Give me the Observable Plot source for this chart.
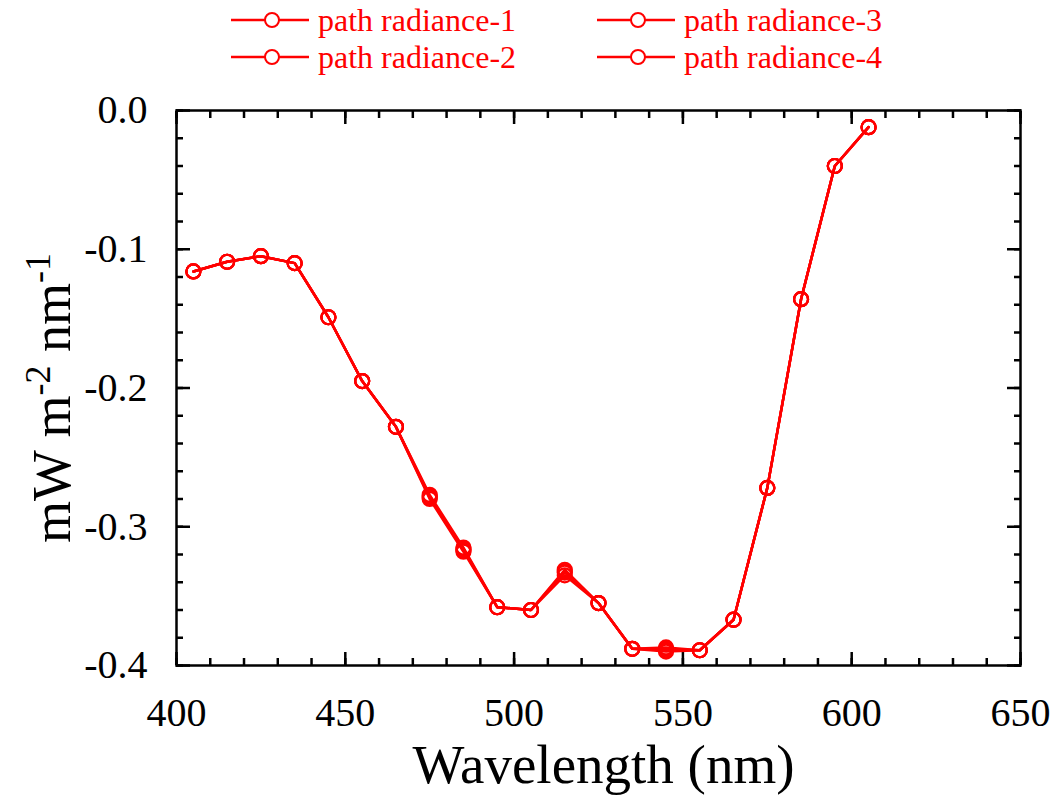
<!DOCTYPE html>
<html>
<head>
<meta charset="utf-8">
<script src="https://cdn.jsdelivr.net/npm/d3@7"></script>
<script src="https://cdn.jsdelivr.net/npm/@observablehq/plot@0.6"></script>
<style>
  html, body { margin: 0; padding: 0; background: #fff; }
  #wrap { width: 1058px; position: relative; font-family: "Liberation Serif", "Times New Roman", serif; }
  #legend { position: relative; width: 1058px; height: 90px; }
  .item { position: absolute; display: flex; align-items: center; height: 36px; color: #ff0000; font-size: 32px; white-space: nowrap; }
  .item svg { display: block; }
  .item span { margin-left: 7px; }
</style>
</head>
<body>
<div id="wrap">
  <div id="legend"></div>
  <div id="chart"></div>
</div>
<script>
// ---- data ----
const wavelengths = [405, 415, 425, 435, 445, 455, 465, 475, 485, 495, 505, 515, 525, 535, 545, 555, 565, 575, 585, 595, 605];
const seriesNames = ["path radiance-1", "path radiance-2", "path radiance-3", "path radiance-4"];
const radiance1 = [-0.116, -0.109, -0.105, -0.110, -0.149, -0.195, -0.228, -0.278, -0.316, -0.358, -0.360, -0.332, -0.355, -0.388, -0.388, -0.389, -0.367, -0.272, -0.136, -0.040, -0.012];
const radiance2 = [-0.116, -0.109, -0.105, -0.110, -0.149, -0.195, -0.228, -0.280, -0.318, -0.358, -0.360, -0.335, -0.355, -0.388, -0.390, -0.389, -0.367, -0.272, -0.136, -0.040, -0.012];
const radiance3 = [-0.116, -0.109, -0.105, -0.110, -0.149, -0.195, -0.228, -0.279, -0.317, -0.358, -0.360, -0.333, -0.355, -0.388, -0.389, -0.389, -0.367, -0.272, -0.136, -0.040, -0.012];
const radiance4 = [-0.116, -0.109, -0.105, -0.110, -0.149, -0.195, -0.228, -0.277, -0.315, -0.358, -0.360, -0.331, -0.355, -0.388, -0.387, -0.389, -0.367, -0.272, -0.136, -0.040, -0.012];
const xMajorTicks = [400, 450, 500, 550, 600, 650];
const yMajorTicks = [-0.4, -0.3, -0.2, -0.1, 0.0];
const xLabel = "Wavelength (nm)";
const yLabelParts = [["mW m", false], ["-2", true], [" nm", false], ["-1", true]];

// ---- build table ----
const allSeries = [radiance1, radiance2, radiance3, radiance4];
const rows = [];
allSeries.forEach((vals, si) => {
  vals.forEach((v, i) => rows.push({series: seriesNames[si], wl: wavelengths[i], value: v}));
});
const xMinorTicks = d3.range(400, 651, 10);
const yMinorTicks = d3.range(-20, 1).map(i => Math.round(i * 2) / 100);
const yLabelText = yLabelParts.map(p => p[0]).join("");
const RED = "#ff0000";

// ---- legend ----
const legend = document.getElementById("legend");
const legendPos = [[231, 2], [231, 39], [597, 2], [597, 39]];
seriesNames.forEach((name, i) => {
  const div = document.createElement("div");
  div.className = "item";
  div.style.left = legendPos[i][0] + "px";
  div.style.top = legendPos[i][1] + "px";
  div.innerHTML = `<svg width="80" height="36"><line x1="0" x2="78" y1="18" y2="18" stroke="${RED}" stroke-width="2.5"/><circle cx="41" cy="18" r="7" fill="white" stroke="${RED}" stroke-width="2"/></svg><span>${name}</span>`;
  legend.appendChild(div);
});

// ---- chart ----
const chart = Plot.plot({
  width: 1058,
  height: 706,
  marginTop: 20,
  marginBottom: 131,
  marginLeft: 176,
  marginRight: 38,
  style: {fontFamily: "Liberation Serif, Times New Roman, serif", color: "black", background: "white", overflow: "visible"},
  x: {domain: [400, 650]},
  y: {domain: [-0.4, 0.0]},
  marks: [
    Plot.frame({stroke: "black", strokeWidth: 2.5}),
    // bottom axis
    Plot.axisX({anchor: "bottom", ticks: xMinorTicks, tickSize: -7, strokeWidth: 2.5, fill: "none", label: null}),
    Plot.axisX({anchor: "bottom", ticks: xMajorTicks, tickSize: -13, tickPadding: 45, strokeWidth: 2.5, fontSize: 40, tickFormat: d => String(d), label: null}),
    // top axis
    Plot.axisX({anchor: "top", ticks: xMinorTicks, tickSize: -7, strokeWidth: 2.5, fill: "none", label: null}),
    Plot.axisX({anchor: "top", ticks: xMajorTicks, tickSize: -13, strokeWidth: 2.5, fill: "none", label: null}),
    // left axis
    Plot.axisY({anchor: "left", ticks: yMinorTicks, tickSize: -7, strokeWidth: 2.5, fill: "none", label: null}),
    Plot.axisY({anchor: "left", ticks: yMajorTicks, tickSize: -14, tickPadding: 43, strokeWidth: 2.5, fontSize: 40, tickFormat: d => d.toFixed(1), label: null}),
    // right axis
    Plot.axisY({anchor: "right", ticks: yMinorTicks, tickSize: -7, strokeWidth: 2.5, fill: "none", label: null}),
    Plot.axisY({anchor: "right", ticks: yMajorTicks, tickSize: -14, strokeWidth: 2.5, fill: "none", label: null}),
    // data
    Plot.line(rows, {x: "wl", y: "value", z: "series", stroke: RED, strokeWidth: 2.5}),
    Plot.dot(rows, {x: "wl", y: "value", r: 7, stroke: RED, strokeWidth: 2.2, fill: "none"}),
    // axis titles
    Plot.text([xLabel], {text: d => d, frameAnchor: "bottom", textAnchor: "middle", dx: 5, dy: 117, fontSize: 55, fill: "black"}),
    Plot.text([yLabelText], {text: d => d, frameAnchor: "left", textAnchor: "middle", dx: -124, dy: 10, rotate: -90, fontSize: 54, fill: "black"})
  ]
});
document.getElementById("chart").appendChild(chart);

// superscripts in the y label
d3.select(chart).selectAll("text").filter(function() { return this.textContent === yLabelText; }).each(function() {
  const t = d3.select(this);
  t.text(null);
  let raised = false;
  yLabelParts.forEach(([s, sup]) => {
    const ts = t.append("tspan").text(s);
    if (sup && !raised) { ts.attr("dy", "-20").attr("font-size", 36); raised = true; }
    else if (sup) { ts.attr("font-size", 36); }
    else if (!sup && raised) { ts.attr("dy", "20"); raised = false; }
  });
});
</script>
</body>
</html>
